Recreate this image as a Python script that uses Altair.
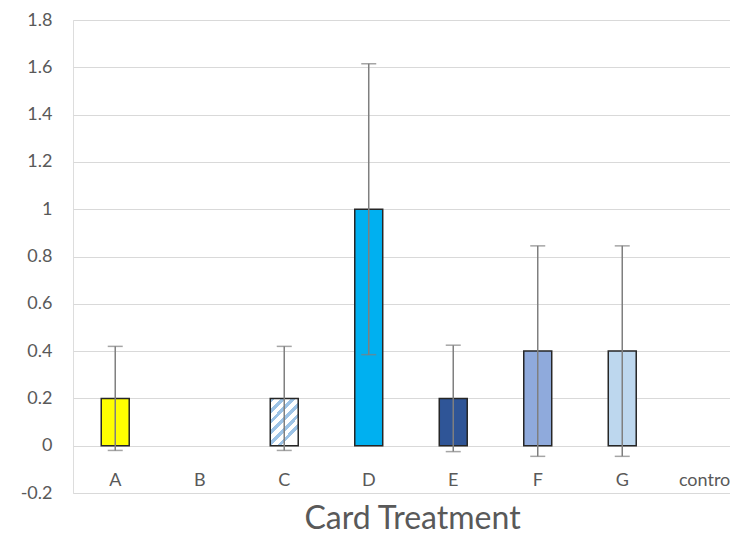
import altair as alt
import pandas as pd

# ---- data ----
categories = ["A", "B", "C", "D", "E", "F", "G", "control"]
values = [0.2, 0.0, 0.2, 1.0, 0.2, 0.4, 0.4, 0.0]
errors = [0.22, 0.0, 0.22, 0.615, 0.225, 0.445, 0.445, 0.0]
bar_colors = ["#FFFF00", "#FFFFFF", "#FFFFFF", "#00B0F0", "#2F5597", "#8FAADC", "#BDD7EE", "#FFFFFF"]
y_ticks = [-0.2, 0, 0.2, 0.4, 0.6, 0.8, 1, 1.2, 1.4, 1.6, 1.8]
hatched = "C"

df = pd.DataFrame({"cat": categories, "value": values, "err": errors})

FONT = "Lato"
TXT = "#595959"

x_enc = alt.X(
    "cat:N",
    sort=categories,
    scale=alt.Scale(domain=categories, paddingInner=0.669, paddingOuter=0.222, align=0.753),
    axis=alt.Axis(
        domain=False, ticks=False, grid=False, labelAngle=0,
        labelFont=FONT, labelFontSize=18, labelColor=TXT,
        labelBaseline="middle", labelPadding=0, offset=-13,
        labelOverlap=False,
        title="Card Treatment", titleFont=FONT, titleFontSize=32,
        titleColor=TXT, titleFontWeight="normal",
        titleBaseline="alphabetic", titleAlign="center", titleX=339, titleY=48,
    ),
)
y_scale = alt.Scale(domain=[-0.2, 1.8], nice=False, zero=False)
y_enc = alt.Y(
    "value:Q", scale=y_scale,
    axis=alt.Axis(
        values=y_ticks, domain=False, ticks=False, labelPadding=21,
        labelFont=FONT, labelFontSize=18, labelColor=TXT,
        labelExpr="datum.value < 0 ? '-' + format(-datum.value, '~g') : format(datum.value, '~g')",
        gridColor="#d9d9d9", gridWidth=1, title=None,
    ),
)

base = alt.Chart(df)

bars = base.transform_filter(
    f"datum.value > 0 && datum.cat != '{hatched}'"
).mark_bar(stroke="#262626", strokeWidth=1.5).encode(
    x=x_enc,
    y=y_enc,
    y2=alt.datum(0),
    color=alt.Color("cat:N", scale=alt.Scale(domain=categories, range=bar_colors), legend=None),
)

# diagonal hatch for C via hard-stop linear gradient
stripe = "#9DC3E6"
n_periods = 6
stops = []
for i in range(n_periods):
    a = i / n_periods
    m = a + 0.45 / n_periods
    b = (i + 1) / n_periods
    stops += [
        alt.GradientStop(color=stripe, offset=a),
        alt.GradientStop(color=stripe, offset=m),
        alt.GradientStop(color="#FFFFFF", offset=m),
        alt.GradientStop(color="#FFFFFF", offset=b),
    ]
hatch = alt.LinearGradient(gradient="linear", stops=stops, x1=0, y1=0, x2=0.6, y2=1)

bar_c = base.transform_filter(f"datum.cat == '{hatched}'").mark_bar(
    fill=hatch, stroke="#262626", strokeWidth=1.5
).encode(x=x_enc, y=y_enc, y2=alt.datum(0))

err_base = base.transform_filter("datum.err > 0").transform_calculate(
    low="datum.value - datum.err", high="datum.value + datum.err"
)
rule = err_base.mark_rule(color="#7f7f7f", strokeWidth=1.5).encode(
    x=x_enc, y=alt.Y("low:Q", scale=y_scale), y2="high:Q"
)
tick_low = err_base.mark_tick(color="#7f7f7f", size=15, thickness=1.5).encode(
    x=x_enc, y=alt.Y("low:Q", scale=y_scale)
)
tick_high = err_base.mark_tick(color="#7f7f7f", size=15, thickness=1.5).encode(
    x=x_enc, y=alt.Y("high:Q", scale=y_scale)
)

chart = alt.layer(bars, bar_c, rule, tick_low, tick_high).properties(
    width=657, height=473,
    autosize=alt.AutoSizeParams(type="none"),
    padding={"left": 65, "top": 12, "right": 0, "bottom": 38},
).configure_view(stroke=None).configure(background="white")

chart.save("out.html", embed_options={"renderer": "svg", "actions": False})
